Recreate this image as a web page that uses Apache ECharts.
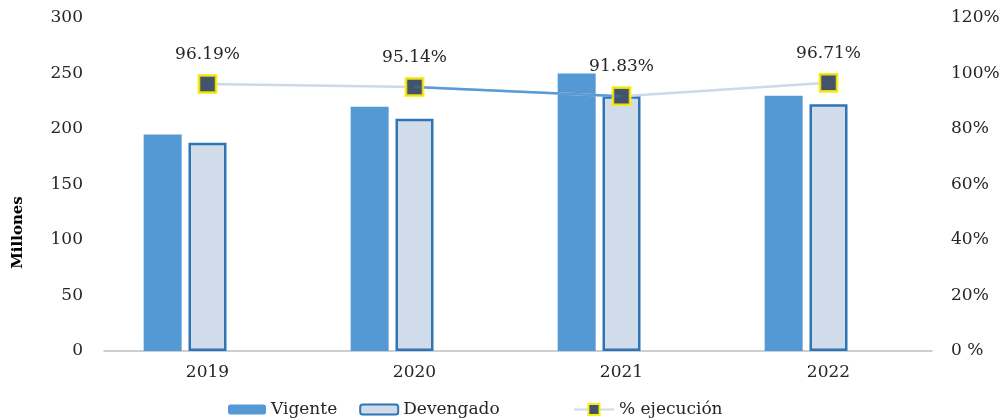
<!DOCTYPE html>
<html>
<head>
<meta charset="utf-8">
<script src="https://cdn.jsdelivr.net/npm/echarts@6/dist/echarts.min.js"></script>
<style>
  html, body { margin: 0; padding: 0; background: #fff; }
  #chart { width: 1003px; height: 419px; }
</style>
</head>
<body>
<div id="chart"></div>
<script>
// datos
const years = ['2019', '2020', '2021', '2022'];
const vigente = [195, 220, 250, 230];
const devengado = [187.6, 209.3, 229.6, 222.4];
const ejecucion = [96.19, 95.14, 91.83, 96.71];
const leftTicks = [0, 300, 50];     // min, max, intervalo
const rightTicks = [0, 120, 20];

const FONT = '"DejaVu Serif", "Liberation Serif", serif';
const TXT = '#262626';
const MARCA = { color: '#44546a', borderColor: '#fbee13', borderWidth: 2.5 };

// tramo 2020-2021 de la linea se ve en azul mas fuerte
const tramoAzul = ejecucion.map((v, i) => (i === 1 || i === 2) ? v : null);

const chart = echarts.init(document.getElementById('chart'));

const option = {
  animation: false,
  grid: { left: 104, right: 71, top: 18, bottom: 68 },
  legend: [
    {
      data: ['Vigente', 'Devengado'],
      left: 223, top: 396,
      itemWidth: 38, itemHeight: 10, itemGap: 22,
      textStyle: { fontFamily: FONT, fontSize: 17, color: TXT }
    },
    {
      data: ['% ejecución'],
      left: 568, top: 396,
      itemWidth: 40, itemHeight: 14,
      textStyle: { fontFamily: FONT, fontSize: 17, color: TXT }
    }
  ],
  xAxis: {
    type: 'category',
    data: years,
    axisLine: { lineStyle: { color: '#bfbfbf', width: 1.5 } },
    axisTick: { show: false },
    axisLabel: { fontFamily: FONT, fontSize: 17, color: TXT, margin: 13 }
  },
  yAxis: [
    {
      type: 'value',
      min: leftTicks[0], max: leftTicks[1], interval: leftTicks[2],
      name: 'Millones',
      nameLocation: 'middle',
      nameRotate: 90,
      nameGap: 78,
      nameTextStyle: { fontFamily: FONT, fontSize: 15, fontWeight: 'bold', color: '#000', padding: [0, 96, 0, 0] },
      splitLine: { show: false },
      axisLine: { show: false },
      axisTick: { show: false },
      axisLabel: { fontFamily: FONT, fontSize: 17, color: TXT, margin: 21 }
    },
    {
      type: 'value',
      min: rightTicks[0], max: rightTicks[1], interval: rightTicks[2],
      position: 'right',
      splitLine: { show: false },
      axisLine: { show: false },
      axisTick: { show: false },
      axisLabel: {
        fontFamily: FONT, fontSize: 17, color: TXT, margin: 19,
        formatter: v => v === 0 ? '0 %' : v + '%'
      }
    }
  ],
  series: [
    {
      name: 'Vigente',
      type: 'bar',
      data: vigente,
      barWidth: 38,
      barGap: '18%',
      itemStyle: { color: '#5599d4' }
    },
    {
      name: 'Devengado',
      type: 'bar',
      data: devengado,
      barWidth: 38,
      barGap: '18%',
      itemStyle: { color: '#d0dcea', borderColor: '#2e75b6', borderWidth: 2.5 }
    },
    {
      // serie vacia como en el Excel original (desplaza las barras)
      name: 'vacio',
      type: 'bar',
      data: years.map(() => null),
      barWidth: 38,
      barGap: '18%'
    },
    {
      name: '% ejecución',
      type: 'line',
      yAxisIndex: 1,
      data: ejecucion,
      symbol: 'rect',
      symbolSize: 17,
      lineStyle: { color: '#cdd9ea', width: 2.5 },
      itemStyle: MARCA,
      label: {
        show: true,
        position: 'top',
        distance: 11,
        fontFamily: FONT,
        fontSize: 17,
        color: TXT,
        formatter: p => p.value.toFixed(2) + '%'
      },
      z: 2
    },
    {
      name: 'tramo',
      type: 'line',
      yAxisIndex: 1,
      data: tramoAzul,
      symbol: 'none',
      lineStyle: { color: '#5b9bd5', width: 2.5 },
      z: 3
    },
    {
      // marcas encima del tramo azul
      name: 'marcas',
      type: 'scatter',
      yAxisIndex: 1,
      data: ejecucion,
      symbol: 'rect',
      symbolSize: 17,
      itemStyle: MARCA,
      z: 4
    }
  ]
};

chart.setOption(option);
</script>
</body>
</html>
